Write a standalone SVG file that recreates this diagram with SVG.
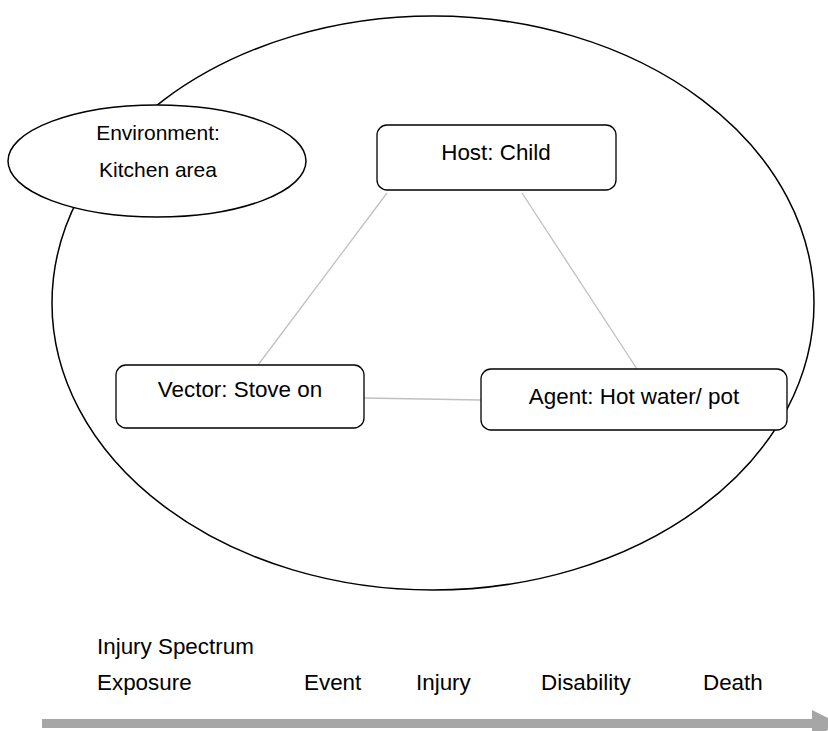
<svg xmlns="http://www.w3.org/2000/svg" width="828" height="731" viewBox="0 0 828 731">
<style>
.t{font-family:"Liberation Sans",Arial,sans-serif;font-size:22.4px;fill:#000}
.e{font-size:21px}
.box{fill:#fff;stroke:#000;stroke-width:1.3}
.conn{stroke:#c0c0c0;stroke-width:1.3;fill:none}
</style>
<rect width="828" height="731" fill="#fff"/>
<g id="world"><ellipse cx="433" cy="303" rx="381" ry="287" fill="none" stroke="#000" stroke-width="1.5"/></g>
<g id="connectors">
<line class="conn" x1="387" y1="193" x2="258" y2="365"/>
<line class="conn" x1="522" y1="193" x2="637" y2="369"/>
<line class="conn" x1="364" y1="398" x2="481" y2="400"/>
</g>
<g id="environment"><ellipse cx="157" cy="161" rx="149" ry="56" fill="#fff" stroke="#000" stroke-width="1.5"/>
<text class="t e" x="158" y="140" text-anchor="middle">Environment:</text>
<text class="t e" x="158" y="177" text-anchor="middle">Kitchen area</text></g>
<g id="host"><rect class="box" x="377" y="125" width="239" height="65" rx="10"/>
<text class="t" x="496" y="160" text-anchor="middle">Host: Child</text></g>
<g id="vector"><rect class="box" x="116" y="365" width="248" height="63" rx="10"/>
<text class="t" x="240" y="397" text-anchor="middle">Vector: Stove on</text></g>
<g id="agent"><rect class="box" x="481" y="369" width="306" height="61" rx="10"/>
<text class="t" x="634" y="404" text-anchor="middle">Agent: Hot water/ pot</text></g>
<g id="spectrum">
<text class="t" x="97" y="654">Injury Spectrum</text>
<text class="t" x="97" y="690">Exposure</text>
<text class="t" x="304" y="690">Event</text>
<text class="t" x="416" y="690">Injury</text>
<text class="t" x="541" y="690">Disability</text>
<text class="t" x="703" y="690">Death</text>
<polygon points="42,719 812,719 812,710 840,724 812,738 812,728 42,728" fill="#a6a6a6"/>
</g>
</svg>
